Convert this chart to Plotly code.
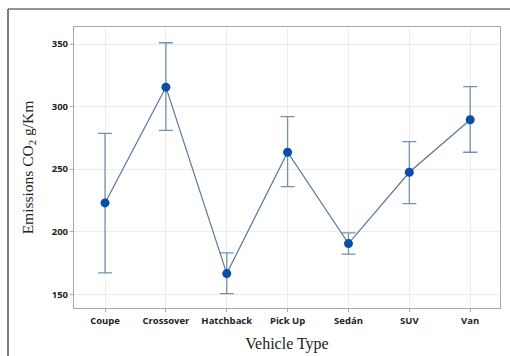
import plotly.graph_objects as go

categories = ["Coupe", "Crossover", "Hatchback", "Pick Up", "Sedán", "SUV", "Van"]
means = [223, 315.5, 166.5, 263.5, 190.5, 247.5, 289.5]
upper = [278.5, 351, 183, 292, 199, 272, 316]
lower = [167, 281, 150.5, 236, 182, 222.5, 263.5]

err_plus = [u - m for u, m in zip(upper, means)]
err_minus = [m - l for m, l in zip(means, lower)]

fig = go.Figure()
fig.add_trace(go.Scatter(
    x=list(range(len(categories))), y=means,
    mode="lines+markers",
    line=dict(color="#5577a0", width=1.2),
    marker=dict(color="#0a4ea6", size=9),
    error_y=dict(type="data", symmetric=False, array=err_plus, arrayminus=err_minus,
                 color="#7391b3", thickness=1.3, width=7),
    showlegend=False,
))

W, H = 510, 356
ml, mr, mt, mb = 74, 10, 27, 48
pw, ph = W - ml - mr, H - mt - mb
fx = (8 - ml) / pw
fy = (H - mb - 9) / ph

fig.update_layout(
    width=W, height=H,
    margin=dict(l=ml, r=mr, t=mt, b=mb),
    paper_bgcolor="white", plot_bgcolor="white",
    xaxis=dict(
        tickmode="array", tickvals=list(range(len(categories))), ticktext=categories,
        range=[-0.51, 6.49], automargin=False,
        showgrid=True, gridcolor="#ececec", gridwidth=1,
        showline=True, linecolor="#a8a8a8", linewidth=1.2, mirror=True,
        ticks="outside", ticklen=3, tickcolor="#a8a8a8",
        tickfont=dict(family="Open Sans", size=9.5, color="#222222", weight="bold"),
        title=dict(text="Vehicle Type", font=dict(family="Liberation Serif", size=16, color="#222222"), standoff=12),
        zeroline=False,
    ),
    yaxis=dict(
        range=[139, 363.6], tickvals=[150, 200, 250, 300, 350], automargin=False,
        showgrid=True, gridcolor="#ececec", gridwidth=1,
        showline=True, linecolor="#a8a8a8", linewidth=1.2, mirror=True,
        ticks="outside", ticklen=3, tickcolor="#a8a8a8",
        tickfont=dict(family="Open Sans", size=9.5, color="#222222", weight="bold"),
        title=dict(text="Emissions CO<sub>2</sub> g/Km", font=dict(family="Liberation Serif", size=15.5, color="#222222"), standoff=14),
        zeroline=False,
    ),
    shapes=[
        dict(type="line", xref="paper", yref="paper", x0=fx, x1=1.2, y0=fy, y1=fy,
             line=dict(color="#707070", width=1.5)),
        dict(type="line", xref="paper", yref="paper", x0=fx, x1=fx, y0=fy, y1=-0.3,
             line=dict(color="#505050", width=1.5)),
    ],
)

fig.write_html("out.html")
